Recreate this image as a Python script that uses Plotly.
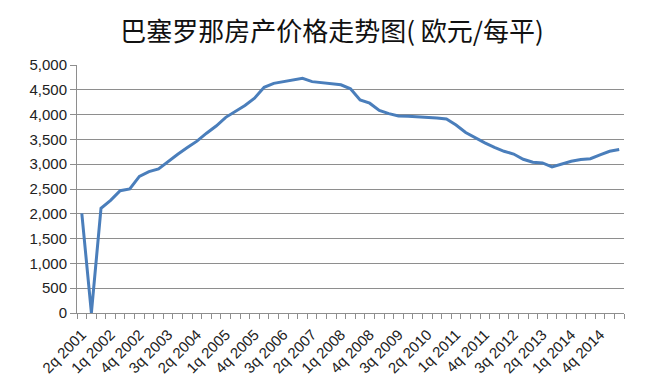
import plotly.graph_objects as go

quarters = [
    "2q 2001", "3q 2001", "4q 2001",
    "1q 2002", "2q 2002", "3q 2002", "4q 2002",
    "1q 2003", "2q 2003", "3q 2003", "4q 2003",
    "1q 2004", "2q 2004", "3q 2004", "4q 2004",
    "1q 2005", "2q 2005", "3q 2005", "4q 2005",
    "1q 2006", "2q 2006", "3q 2006", "4q 2006",
    "1q 2007", "2q 2007", "3q 2007", "4q 2007",
    "1q 2008", "2q 2008", "3q 2008", "4q 2008",
    "1q 2009", "2q 2009", "3q 2009", "4q 2009",
    "1q 2010", "2q 2010", "3q 2010", "4q 2010",
    "1q 2011", "2q 2011", "3q 2011", "4q 2011",
    "1q 2012", "2q 2012", "3q 2012", "4q 2012",
    "1q 2013", "2q 2013", "3q 2013", "4q 2013",
    "1q 2014", "2q 2014", "3q 2014", "4q 2014",
    "1q 2015", "2q 2015",
]

prices = [
    2010, 0, 2110, 2270, 2465, 2500, 2755, 2850, 2905, 3060,
    3200, 3335, 3465, 3625, 3770, 3945, 4060, 4185, 4330, 4550,
    4630, 4665, 4705, 4730, 4665, 4645, 4615, 4600, 4520, 4295,
    4230, 4085, 4020, 3972, 3965, 3958, 3948, 3930, 3910, 3790,
    3640, 3530, 3430, 3340, 3260, 3205, 3100, 3040, 3025, 2945,
    3010, 3060, 3095, 3110, 3190, 3260, 3295,
]

title_text = "巴塞罗那房产价格走势图( 欧元/每平)"

x_idx = list(range(len(quarters)))
label_idx = x_idx[::3]
label_text = [quarters[i] for i in label_idx]

fig = go.Figure()
fig.add_trace(go.Scatter(
    x=x_idx, y=prices, mode="lines",
    line=dict(color="#4A7EBB", width=3),
    hoverinfo="skip", showlegend=False,
))

# the page body adds an 8px offset, so the figure is 8px smaller
W, H = 650, 382
grid = "#8E8E8E"
fig.update_layout(
    width=W, height=H,
    margin=dict(l=69, r=34, t=57, b=77),
    paper_bgcolor="white", plot_bgcolor="white",
    title=dict(
        text=title_text, x=324/W, xref="container", xanchor="center",
        y=1-24/H, yref="container", yanchor="middle",
        font=dict(family="Noto Sans CJK SC", size=26, color="#111"),
    ),
    font=dict(family="Liberation Sans", size=14, color="#222"),
)
fig.update_xaxes(
    range=[-0.5, len(quarters) - 0.5], automargin=False,
    tickmode="array", tickvals=label_idx, ticktext=label_text,
    tickangle=-45, ticks="", showgrid=False, zeroline=False,
    showline=True, linecolor=grid, linewidth=1,
    tickfont=dict(size=15, color="#222"), ticklabelstandoff=6,
    minor=dict(ticks="outside", tick0=-0.5, dtick=1, ticklen=5,
               tickcolor=grid, showgrid=False),
)
fig.update_yaxes(
    range=[0, 5000], dtick=500, tickformat=",", automargin=False,
    showgrid=True, gridcolor=grid, gridwidth=1, zeroline=False,
    showline=True, linecolor=grid, linewidth=1,
    ticks="outside", ticklen=6, tickcolor=grid,
    tickfont=dict(size=15, color="#222"),
)

fig.write_html("out.html")
